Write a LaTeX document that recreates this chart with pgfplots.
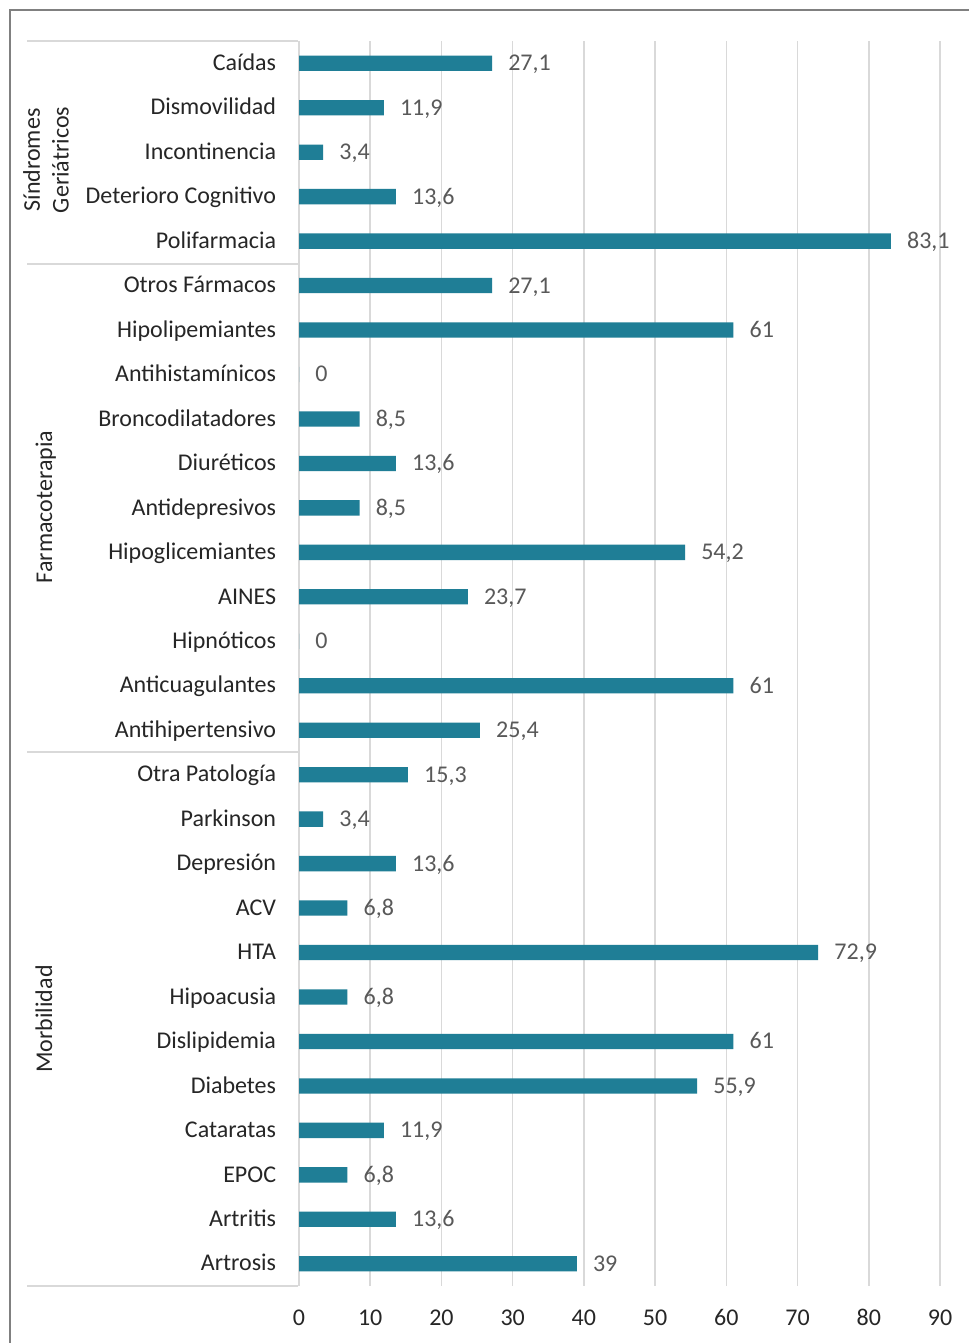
\documentclass[border=0pt]{standalone}
\usepackage{fontspec}
\setmainfont{Carlito}
\usepackage{pgfplots}
\usepackage{pgfplotstable}
\pgfplotsset{compat=1.18}
\definecolor{barc}{RGB}{31,126,150}
\definecolor{gridc}{RGB}{217,217,217}
\definecolor{lblc}{RGB}{89,89,89}
\definecolor{txtc}{RGB}{38,38,38}
\definecolor{framec}{RGB}{128,128,128}
\pgfplotstableread{
idx val
0 27.1
1 11.9
2 3.4
3 13.6
4 83.1
5 27.1
6 61
7 0
8 8.5
9 13.6
10 8.5
11 54.2
12 23.7
13 0
14 61
15 25.4
16 15.3
17 3.4
18 13.6
19 6.8
20 72.9
21 6.8
22 61
23 55.9
24 11.9
25 6.8
26 13.6
27 39
}\datatable
\newcommand{\fs}{\fontsize{18}{21.6}\selectfont}
\begin{document}
\begin{tikzpicture}
\begin{scope}[x=0.75pt,y=0.75pt]
\useasboundingbox (0,0) rectangle (969,1343);
\fill[white] (0,0) rectangle (969,1343);
\draw[framec, line width=0.9pt] (10,-30) rectangle (1100,1333);
\draw[gridc, line width=1.5pt] (27,1302) -- (298,1302);
\draw[gridc, line width=1.5pt] (27,1079) -- (298,1079);
\draw[gridc, line width=1.5pt] (27,591) -- (298,591);
\draw[gridc, line width=1.5pt] (27,57) -- (298,57);
\node[rotate=90, align=center, text=txtc, font=\fs, inner sep=0pt] at (46,1183) {Síndromes\\Geriátricos};
\node[rotate=90, anchor=base, text=txtc, font=\fs, inner sep=0pt] at (52,836) {Farmacoterapia};
\node[rotate=90, anchor=base, text=txtc, font=\fs, inner sep=0pt] at (52,324) {Morbilidad};
\end{scope}
\begin{axis}[
  at={(224.25pt,42.75pt)}, anchor=south west,
  scale only axis, width=480.75pt, height=933.75pt,
  xmin=0, xmax=90, ymin=-0.5, ymax=27.5,
  y dir=reverse,
  xtick={0,10,...,90},
  ytick={0,...,27},
  yticklabels={Caídas,Dismovilidad,Incontinencia,Deterioro Cognitivo,Polifarmacia,Otros Fármacos,Hipolipemiantes,Antihistamínicos,Broncodilatadores,Diuréticos,Antidepresivos,Hipoglicemiantes,AINES,Hipnóticos,Anticuagulantes,Antihipertensivo,Otra Patología,Parkinson,Depresión,ACV,HTA,Hipoacusia,Dislipidemia,Diabetes,Cataratas,EPOC,Artritis,Artrosis},
  axis line style={draw=none},
  tick style={draw=none},
  xmajorgrids=true,
  grid style={gridc, line width=1.1pt},
  ticklabel style={font=\fs, text=txtc},
  yticklabel style={anchor=base east, inner sep=0pt, xshift=-17pt, yshift=-5.4pt},
  xticklabel style={anchor=center, inner sep=0pt, yshift=-23.5pt},
  /pgf/number format/assume math mode=true,
  /pgf/number format/use comma,
  /pgf/number format/1000 sep={},
]
\addplot[xbar, fill=barc, draw=none, bar width=11.5pt,
  point meta=x,
  nodes near coords,
  every node near coord/.append style={anchor=base west, inner sep=0pt, xshift=12pt, yshift=-5.6pt, font=\fs, text=lblc}]
  table[x=val, y=idx]{\datatable};
\end{axis}
\end{tikzpicture}
\end{document}
